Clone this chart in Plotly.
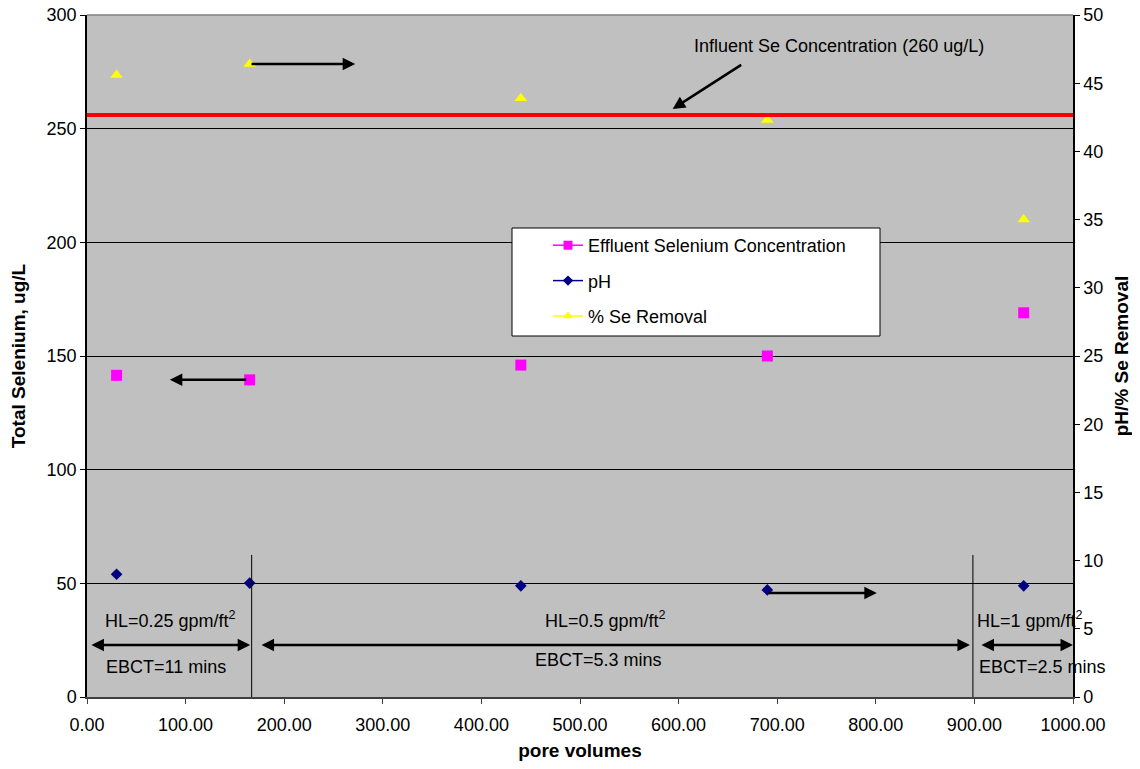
import plotly.graph_objects as go

# Data
pore_volumes = [30, 165, 440, 690, 950]
effluent_se = [141.5, 139.5, 146.0, 150.0, 169.0]       # ug/L, left axis
ph_values = [9.0, 8.35, 8.15, 7.85, 8.15]              # right axis
se_removal = [45.6, 46.4, 43.9, 42.3, 35.0]            # %, right axis
influent_se = 256

FONT = "Arial, Liberation Sans, sans-serif"

fig = go.Figure()

fig.add_trace(go.Scatter(x=pore_volumes, y=effluent_se, mode="markers",
                         marker=dict(symbol="square", size=11, color="#FF00FF"),
                         showlegend=False, yaxis="y"))
fig.add_trace(go.Scatter(x=pore_volumes, y=ph_values, mode="markers",
                         marker=dict(symbol="diamond", size=9, color="#000080"),
                         showlegend=False, yaxis="y2"))
fig.add_trace(go.Scatter(x=pore_volumes, y=se_removal, mode="markers",
                         marker=dict(symbol="triangle-up", size=11, color="#FFFF00"),
                         showlegend=False, yaxis="y2"))

# legend entries
legend_items = [("Effluent Selenium Concentration", "square", 9, "#FF00FF"),
                ("pH", "diamond", 8, "#000080"),
                ("% Se Removal", "triangle-up", 9, "#FFFF00")]
for i, (name, sym, sz, col) in enumerate(legend_items):
    fig.add_trace(go.Scatter(x=[None], y=[None], mode="lines+markers", name=name,
                             legendgroup=f"g{i}",
                             marker=dict(symbol=sym, size=sz, color=col),
                             line=dict(color=col, width=1.5)))

# plot area in screen pixels: x 87..1073, y 15..697
def px(xp):
    return (xp - 87) / 986.0

def py(yp):
    return (697 - yp) / 682.0

shapes = [
    dict(type="line", xref="x", yref="y", x0=0, x1=1000, y0=influent_se, y1=influent_se,
         line=dict(color="#FF0000", width=4)),
    dict(type="line", xref="x", yref="y", x0=167, x1=167, y0=0, y1=62.5,
         line=dict(color="black", width=1)),
    dict(type="line", xref="x", yref="y", x0=898.5, x1=898.5, y0=0, y1=62.5,
         line=dict(color="black", width=1)),
    dict(type="rect", xref="paper", yref="paper", x0=px(512), x1=px(880), y0=py(336), y1=py(228),
         fillcolor="white", line=dict(color="black", width=1), layer="above"),
    dict(type="line", xref="paper", yref="paper", x0=0, x1=1, y0=1, y1=1,
         line=dict(color="#808080", width=1.5)),
]

annotations = []

def arrow(x0, y0, x1, y1, yref="y", both=False):
    annotations.append(dict(x=x1, y=y1, ax=x0, ay=y0, xref="x", yref=yref,
                            axref="x", ayref=yref, text="", showarrow=True,
                            arrowhead=2, arrowsize=1, arrowwidth=2.5, arrowcolor="black",
                            arrowside="end+start" if both else "end"))

arrow(665, 278.5, 594, 258.7)          # influent pointer
arrow(165.3, 46.4, 272, 46.4, yref="y2")   # removal -> right axis
arrow(163, 139.5, 84, 139.5)           # effluent -> left axis
arrow(690, 7.62, 801, 7.62, yref="y2")    # pH -> right axis
arrow(3, 22.9, 165.5, 22.9, both=True)
arrow(175.5, 22.9, 895.5, 22.9, both=True)
arrow(905.7, 22.9, 1000, 22.9, both=True)

def label(text, xp, yp):
    annotations.append(dict(x=px(xp), y=py(yp), xref="paper", yref="paper", text=text,
                            showarrow=False, font=dict(family=FONT, size=18, color="black"),
                            xanchor="center", yanchor="middle"))

label("Influent Se Concentration (260 ug/L)", 839, 46)
label("HL=0.25 gpm/ft<sup>2</sup>", 170, 619)
label("EBCT=11 mins", 166, 667)
label("HL=0.5 gpm/ft<sup>2</sup>", 605, 619)
label("EBCT=5.3 mins", 598, 660)
label("HL=1 gpm/ft<sup>2</sup>", 1030, 619)
label("EBCT=2.5 mins", 1042, 667)

# page body has an 8px margin, so figure coords = screen coords - 8;
# figure sized so the page does not overflow the 1140x769 window
fig.update_layout(
    width=1124, height=753,
    margin=dict(l=79, r=59, t=7, b=64, autoexpand=False),
    paper_bgcolor="white", plot_bgcolor="#C0C0C0",
    font=dict(family=FONT, size=18, color="black"),
    shapes=shapes, annotations=annotations,
    showlegend=True,
    legend=dict(x=px(548), y=py(227), xanchor="left", yanchor="top",
                bgcolor="rgba(0,0,0,0)", borderwidth=0, tracegroupgap=9,
                font=dict(family=FONT, size=18, color="black")),
    xaxis=dict(range=[0, 1000], dtick=100, tick0=0, tickformat=".2f", automargin=False,
               showgrid=False, zeroline=False, showline=True, linecolor="#404040",
               linewidth=1.5, ticks="outside", ticklen=5, tickcolor="#404040",
               tickfont=dict(size=18), ticklabelstandoff=6, ticklabeloverflow="allow",
               title=dict(text="<b>pore volumes</b>", font=dict(family=FONT, size=19), standoff=16)),
    yaxis=dict(range=[0, 300], dtick=50, showgrid=True, gridcolor="black", gridwidth=1,
               automargin=False, tickfont=dict(size=18), ticklabeloverflow="allow",
               zeroline=False, showline=True, linecolor="black", linewidth=1.5,
               ticks="outside", ticklen=5, tickcolor="black",
               title=dict(text="<b>Total Selenium, ug/L</b>", font=dict(family=FONT, size=19), standoff=18)),
    yaxis2=dict(range=[0, 50], dtick=5, overlaying="y", side="right", showgrid=False,
                automargin=False, tickfont=dict(size=18), ticklabeloverflow="allow",
                zeroline=False, showline=True, linecolor="black", linewidth=1.5,
                ticks="outside", ticklen=5, tickcolor="black",
                title=dict(text="<b>pH/% Se Removal</b>", font=dict(family=FONT, size=19), standoff=16)),
)

fig.write_html("out.html")
